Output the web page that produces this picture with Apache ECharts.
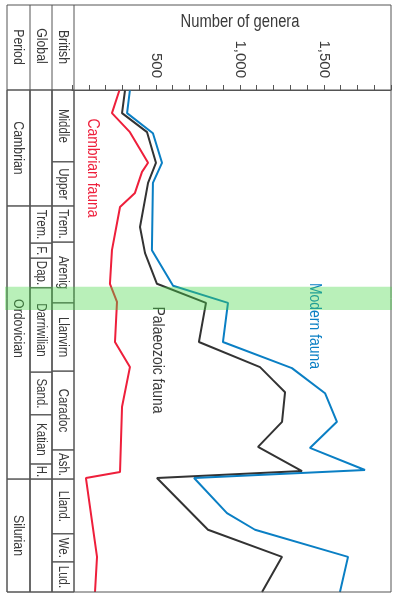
<!DOCTYPE html>
<html><head><meta charset="utf-8">
<script src="https://cdn.jsdelivr.net/npm/echarts@6/dist/echarts.min.js"></script>
<style>html,body{margin:0;padding:0;background:#fff}#c{width:396px;height:607px}</style>
</head><body><div id="c"></div>
<script>
// Relative stratigraphic position: 0 = top of chart (oldest), 100 = bottom (youngest)
const cambrianFauna = [[283,0],[238,4.6],[345,8.4],[453,14.5],[417,16.3],[375,20.5],[286,23.3],[238,31.9],[226,38.6],[268,42.2],[256,50.2],[345,55.2],[298,63.1],[286,76.1],[83,77.3],[149,93.0],[137,100]];
const palaeozoicFauna = [[316,0],[298,4.6],[447,8.4],[500,14.5],[453,18.5],[405,27.3],[435,32.5],[506,38.6],[798,42.4],[756,50.2],[1120,55.2],[1197,57.8],[1269,60.2],[1251,66.1],[1108,71.1],[1370,75.9],[506,77.3],[810,87.6],[1251,93.0],[1132,100]];
const modernFauna = [[345,0],[328,4.6],[482,8.6],[536,14.5],[482,18.5],[476,31.9],[602,39.0],[929,42.4],[899,50.2],[1310,55.4],[1507,60.4],[1578,66.1],[1417,71.3],[1745,75.7],[727,77.3],[923,84.3],[1090,87.6],[1644,93.0],[1596,100]];

const periodNames = ['Cambrian','Ordovician','Silurian'];
const periodBounds = [0,23.1,77.5,100];
const globalNames = ['','Trem.','F.','Dap.','Darriwilian','Sand.','Katian','H.',''];
const globalBounds = [0,23.1,30.5,33.5,39.4,56.2,64.7,74.5,77.5,100];
const britishNames = ['Middle','Upper','Trem.','Arenig','Llanvirn','Caradoc','Ash.','Lland.','We.','Lud.'];
const britishBounds = [0,14.3,23.1,30.3,42.4,56.0,71.7,77.5,88.4,94.0,100];
const highlightBand = [39.2,43.8];
const tickLabels = {500:'500',1000:'1,000',1500:'1,500'};

const FONT = "'Liberation Sans',Arial,sans-serif";
const SX = 0.82; // condensed look
const INK = '#3a3a3a';
const BORDER = '#555';

function cells(names, bounds){
  const out=[];
  for(let i=0;i<names.length;i++) out.push([bounds[i],bounds[i+1],i]);
  return out;
}
function columnSeries(names, bounds, x0, x1, fs, shifts){
  return {
    type:'custom', clip:false, silent:true, z:3,
    data: cells(names,bounds),
    encode:{y:[0,1]},
    renderItem:function(params, api){
      const ya = api.coord([0, api.value(0)])[1];
      const yb = api.coord([0, api.value(1)])[1];
      const name = names[params.dataIndex];
      const dy = (shifts && shifts[params.dataIndex]) || 0;
      return {type:'group', children:[
        {type:'rect', shape:{x:x0,y:ya,width:x1-x0,height:yb-ya}, style:{fill:'none',stroke:BORDER,lineWidth:1}},
        {type:'text', x:(x0+x1)/2, y:(ya+yb)/2+dy, rotation:-Math.PI/2, scaleX:SX,
          style:{text:name, align:'center', verticalAlign:'middle', fontSize:fs, fontFamily:FONT, fill:INK}}
      ]};
    }
  };
}
function rtext(txt, x, y, fs, color){
  return {type:'text', x:x, y:y, rotation:-Math.PI/2, scaleX:SX, z:5,
    style:{text:txt,align:'center',verticalAlign:'middle',fontSize:fs,fontFamily:FONT,fill:color}};
}

const chart = echarts.init(document.getElementById('c'), null, {renderer:'canvas'});
chart.setOption({
  animation:false,
  backgroundColor:'#fff',
  grid:{left:72,right:5,top:90,bottom:15,containLabel:false},
  xAxis:{type:'value', position:'top', min:0, max:1900, interval:100,
    axisLine:{show:true, lineStyle:{color:BORDER,width:1}},
    axisTick:{show:true, length:5, lineStyle:{color:BORDER,width:1}},
    splitLine:{show:false},
    axisLabel:{show:true, rotate:-90, margin:12, fontSize:15, fontFamily:FONT, color:INK,
      formatter:function(v){return tickLabels[v]||'';}}
  },
  yAxis:{type:'value', min:0, max:100, inverse:true, show:false},
  graphic:[
    {type:'rect', shape:{x:7,y:5,width:384,height:587}, style:{fill:'none',stroke:BORDER,lineWidth:1}, z:5},
    {type:'line', shape:{x1:7,y1:90,x2:391,y2:90}, style:{stroke:BORDER,lineWidth:1}, z:5},
    {type:'line', shape:{x1:30,y1:5,x2:30,y2:592}, style:{stroke:BORDER,lineWidth:1}, z:5},
    {type:'line', shape:{x1:52,y1:5,x2:52,y2:592}, style:{stroke:BORDER,lineWidth:1}, z:5},
    {type:'line', shape:{x1:74,y1:5,x2:74,y2:592}, style:{stroke:BORDER,lineWidth:1}, z:5},
    rtext('Period', 18.5, 47, 15, INK),
    rtext('Global', 41, 46, 15, INK),
    rtext('British', 63, 47, 15, INK),
    {type:'text', x:240, y:22, scaleX:SX, z:5, style:{text:'Number of genera',align:'center',verticalAlign:'middle',fontSize:18,fontFamily:FONT,fill:INK}},
    rtext('Cambrian fauna', 93, 168, 17, '#ee1f3b'),
    rtext('Palaeozoic fauna', 158, 360, 17, INK),
    rtext('Modern fauna', 315, 326, 17, '#0a7fc4')
  ],
  series:[
    columnSeries(periodNames, periodBounds, 7, 30, 15, [0,-14,0]),
    columnSeries(globalNames, globalBounds, 30, 52, 14),
    columnSeries(britishNames, britishBounds, 52, 74, 14),
    {type:'line', name:'Cambrian fauna', data:cambrianFauna, showSymbol:false, z:4,
      lineStyle:{color:'#ee1f3b',width:2}},
    {type:'line', name:'Palaeozoic fauna', data:palaeozoicFauna, showSymbol:false, z:4,
      lineStyle:{color:'#333',width:2}},
    {type:'line', name:'Modern fauna', data:modernFauna, showSymbol:false, z:4,
      lineStyle:{color:'#0a7fc4',width:2}},
    {type:'custom', clip:false, silent:true, z:10,
      data:[highlightBand], encode:{y:[0,1]},
      renderItem:function(params, api){
        const ya = api.coord([0, api.value(0)])[1];
        const yb = api.coord([0, api.value(1)])[1];
        return {type:'rect', shape:{x:5,y:ya,width:387,height:yb-ya}, style:{fill:'rgba(70,215,70,0.38)'}};
      }}
  ]
});
</script></body></html>
